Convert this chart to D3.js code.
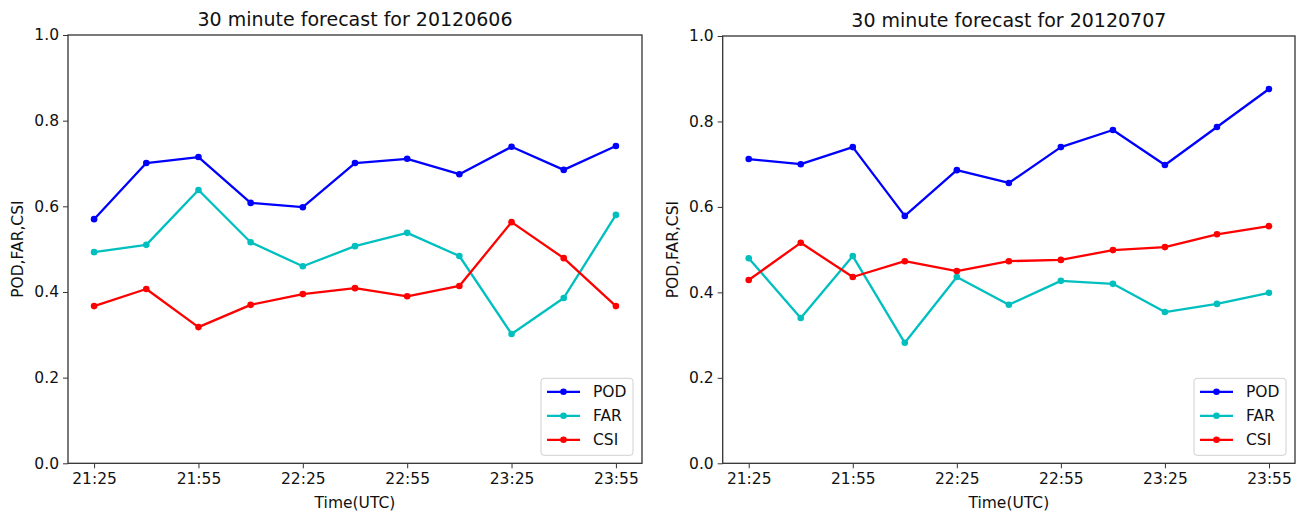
<!DOCTYPE html>
<html>
<head>
<meta charset="utf-8">
<script src="https://cdn.jsdelivr.net/npm/d3@7"></script>
<style>
  body { margin: 0; background: #fff; }
  svg { display: block; }
  text { font-family: "DejaVu Sans", sans-serif; fill: #111; }
</style>
</head>
<body>
<svg id="chart" width="1301" height="513"></svg>
<script>
// ---- data ----
const times = ["21:25","21:40","21:55","22:10","22:25","22:40","22:55","23:10","23:25","23:40","23:55"];
const tickLabels = ["21:25","21:55","22:25","22:55","23:25","23:55"];
const yTicks = [0.0, 0.2, 0.4, 0.6, 0.8, 1.0];
const seriesNames = ["POD", "FAR", "CSI"];

const titles = ["30 minute forecast for 20120606", "30 minute forecast for 20120707"];

const pod0606 = [0.570, 0.701, 0.715, 0.608, 0.598, 0.701, 0.711, 0.675, 0.739, 0.685, 0.741];
const far0606 = [0.493, 0.510, 0.638, 0.516, 0.460, 0.507, 0.538, 0.484, 0.302, 0.386, 0.580];
const csi0606 = [0.367, 0.407, 0.318, 0.370, 0.395, 0.409, 0.390, 0.414, 0.563, 0.479, 0.367];

const pod0707 = [0.712, 0.700, 0.740, 0.579, 0.686, 0.656, 0.740, 0.780, 0.698, 0.787, 0.876];
const far0707 = [0.480, 0.340, 0.485, 0.282, 0.436, 0.371, 0.427, 0.420, 0.354, 0.373, 0.399];
const csi0707 = [0.429, 0.516, 0.436, 0.473, 0.450, 0.473, 0.476, 0.499, 0.506, 0.536, 0.555];

const colors = { POD: "#0000ff", FAR: "#00bfbf", CSI: "#ff0000" };

const panels = [
  { title: titles[0], data: { POD: pod0606, FAR: far0606, CSI: csi0606 }, left: 68, right: 642, top: 35, bottom: 463.3 },
  { title: titles[1], data: { POD: pod0707, FAR: far0707, CSI: csi0707 }, left: 722.7, right: 1295, top: 36, bottom: 463.3 }
];

const FS = 15.5;

const toMin = t => { const [h, m] = t.split(":").map(Number); return h * 60 + m; };
const t0 = toMin(times[0]);

const svg = d3.select("#chart");

panels.forEach(p => {
  const minutes = times.map(t => toMin(t) - t0);
  const span = d3.max(minutes);
  const x = d3.scaleLinear().domain([-0.05 * span, 1.05 * span]).range([p.left, p.right]);
  const y = d3.scaleLinear().domain([0, 1]).range([p.bottom, p.top]);
  const g = svg.append("g");

  // x axis
  const xAxis = d3.axisBottom(x)
    .tickValues(tickLabels.map(t => toMin(t) - t0))
    .tickFormat((d, i) => tickLabels[i])
    .tickSize(5).tickPadding(5);
  const gx = g.append("g").attr("transform", `translate(0,${p.bottom})`).call(xAxis);
  gx.select(".domain").remove();
  gx.selectAll("line").attr("stroke", "#333").attr("stroke-width", 1);
  gx.selectAll("text").attr("font-size", FS).attr("font-family", "DejaVu Sans").attr("fill", "#111");

  // y axis
  const yAxis = d3.axisLeft(y).tickValues(yTicks).tickFormat(d3.format(".1f")).tickSize(5).tickPadding(4);
  const gy = g.append("g").attr("transform", `translate(${p.left},0)`).call(yAxis);
  gy.select(".domain").remove();
  gy.selectAll("line").attr("stroke", "#333").attr("stroke-width", 1);
  gy.selectAll("text").attr("font-size", FS).attr("font-family", "DejaVu Sans").attr("fill", "#111");

  // frame
  g.append("rect")
    .attr("x", p.left).attr("y", p.top)
    .attr("width", p.right - p.left).attr("height", p.bottom - p.top)
    .attr("fill", "none").attr("stroke", "#333").attr("stroke-width", 1.3);

  // series
  const line = d3.line().x((d, i) => x(minutes[i])).y(d => y(d));
  seriesNames.forEach(name => {
    const vals = p.data[name];
    g.append("path").datum(vals)
      .attr("d", line).attr("fill", "none")
      .attr("stroke", colors[name]).attr("stroke-width", 2.3)
      .attr("stroke-linejoin", "round");
    g.selectAll(null).data(vals).enter().append("circle")
      .attr("cx", (d, i) => x(minutes[i])).attr("cy", d => y(d))
      .attr("r", 3.3).attr("fill", colors[name]);
  });

  // title
  const cx = (p.left + p.right) / 2;
  g.append("text").attr("x", cx).attr("y", p.top - 9)
    .attr("text-anchor", "middle").attr("font-size", 19).text(p.title);
  // x label
  g.append("text").attr("x", cx).attr("y", 508)
    .attr("text-anchor", "middle").attr("font-size", FS).text("Time(UTC)");
  // y label
  g.append("text")
    .attr("transform", `translate(${p.left - 45},${(p.top + p.bottom) / 2}) rotate(-90)`)
    .attr("text-anchor", "middle").attr("font-size", FS).text("POD,FAR,CSI");

  // legend
  const lw = 92, lh = 77;
  const lx = p.right - 9 - lw, ly = p.bottom - 8 - lh;
  const lg = g.append("g").attr("transform", `translate(${lx},${ly})`);
  lg.append("rect").attr("width", lw).attr("height", lh).attr("rx", 3)
    .attr("fill", "#fff").attr("fill-opacity", 0.8).attr("stroke", "#d0d0d0");
  seriesNames.forEach((name, i) => {
    const yy = 13.5 + i * 24;
    lg.append("line").attr("x1", 6).attr("x2", 39).attr("y1", yy).attr("y2", yy)
      .attr("stroke", colors[name]).attr("stroke-width", 2.3);
    lg.append("circle").attr("cx", 22.5).attr("cy", yy).attr("r", 3.3).attr("fill", colors[name]);
    lg.append("text").attr("x", 52).attr("y", yy + 5.5).attr("font-size", FS).text(name);
  });
});
</script>
</body>
</html>
